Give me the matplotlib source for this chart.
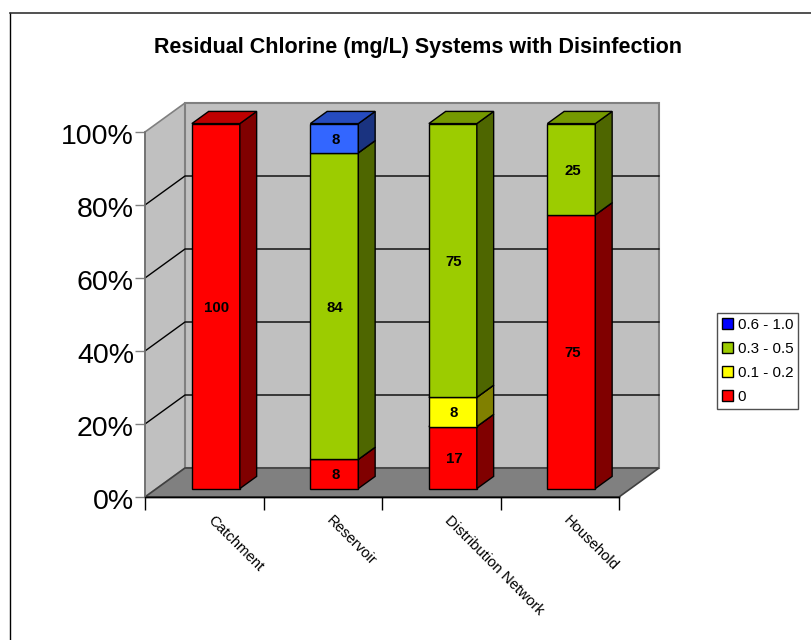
"""
    Residual chlorine stacked columns, drawn as a fake 3D box
"""

import matplotlib
matplotlib.use('Agg')
from matplotlib import pyplot as plt
from matplotlib.patches import Patch, Polygon
from matplotlib.lines import Line2D
from matplotlib.transforms import Affine2D

categories = ['Catchment', 'Reservoir', 'Distribution Network', 'Household']
series_names = ['0', '0.1 - 0.2', '0.3 - 0.5', '0.6 - 1.0']
s_0 = [100, 8, 17, 75]
s_01 = [0, 0, 8, 0]
s_03 = [0, 84, 75, 25]
s_06 = [0, 8, 0, 0]
series = [s_0, s_01, s_03, s_06]
yticks = [0, 20, 40, 60, 80, 100]

face = ['#ff0000', '#ffff00', '#9ccc00', '#3366ff']
top = ['#bf0000', '#bfbf00', '#759900', '#264cbf']
side = ['#800000', '#808000', '#4e6600', '#1a3380']
legend_col = ['#ff0000', '#ffff00', '#9ccc00', '#0000ff']

W, H = 811, 640
DX, DY = 40, 29  # pixel shift of the box depth
BW = 0.405  # bar width in category units


def px_box(x0, y0, x1, y1):
    return [x0 / W, 1 - y1 / H, (x1 - x0) / W, (y1 - y0) / H]


plt.rcParams['font.family'] = ['Liberation Sans', 'DejaVu Sans']
fig = plt.figure(figsize=(W / 100, H / 100), dpi=100)

# outer chart frame, only left and top are inside the image
fig.add_artist(Line2D([9.5 / W, 9.5 / W], [0, 1 - 13 / H], color='black', lw=1))
fig.add_artist(Line2D([9.5 / W, 1], [1 - 13 / H, 1 - 13 / H], color='#333333', lw=1.2))

ax = fig.add_axes(px_box(145, 132, 619, 497))
ax.set_xlim(0, 4)
ax.set_ylim(0, 100)
ax.patch.set_visible(False)
for k in ['top', 'right']:
    ax.spines[k].set_visible(False)
ax.spines['left'].set_color('#707070')
ax.spines['left'].set_linewidth(1.2)
ax.spines['bottom'].set_color('black')
ax.spines['bottom'].set_linewidth(1)


def poly(pts, fc, ec='black', lw=1, z=2):
    ax.add_patch(Polygon(pts, closed=True, fc=fc, ec=ec, lw=lw, zorder=z, clip_on=False))


def shift(x, y, d):
    # data point pushed back by depth d, returned in data coordinates
    disp = ax.transData.transform((x, y))
    return tuple(ax.transData.inverted().transform((disp[0] + DX * d, disp[1] + DY * d)))


# walls and floor
poly([shift(0, 0, 0), shift(0, 0, 1), shift(0, 100, 1), shift(0, 100, 0)], '#c0c0c0', ec='#808080', lw=1.2, z=0)
poly([shift(0, 0, 1), shift(4, 0, 1), shift(4, 100, 1), shift(0, 100, 1)], '#c0c0c0', ec='#808080', lw=1.5, z=0)
poly([shift(0, 0, 0), shift(4, 0, 0), shift(4, 0, 1), shift(0, 0, 1)], '#808080', ec='#404040', lw=1.2, z=0.5)
ax.plot([0, 4], [0, 0], color='black', lw=1, zorder=0.6, clip_on=False)

# gridlines along side wall and back wall
for v in yticks[1:-1]:
    a, b, c = shift(0, v, 0), shift(0, v, 1), shift(4, v, 1)
    ax.plot([a[0], b[0], c[0]], [a[1], b[1], c[1]], color='black', lw=1, zorder=1, clip_on=False)

# stacked bars
d0, d1 = 0.29, 0.71
for i in range(len(categories)):
    left = i + 0.5 - BW / 2
    right = left + BW
    bottom = 0
    for j, vals in enumerate(series):
        v = vals[i]
        if v == 0:
            continue
        tp = bottom + v
        a, b = shift(left, bottom, d0), shift(right, bottom, d0)
        c, e = shift(right, tp, d0), shift(left, tp, d0)
        poly([a, b, c, e], face[j], z=3)
        b2, c2, e2 = shift(right, bottom, d1), shift(right, tp, d1), shift(left, tp, d1)
        poly([b, b2, c2, c], side[j], z=3)
        poly([e, c, c2, e2], top[j], z=3)
        mx, my = shift(i + 0.5, bottom + v / 2, d0)
        ax.annotate(str(v), xy=(mx, my), xytext=(1, -1.5), textcoords='offset pixels', ha='center', va='center',
                    fontsize=10.8, fontweight='bold', color='black', zorder=4)
        bottom = tp

ax.set_yticks(yticks)
ax.set_yticklabels([f'{v}%' for v in yticks], fontsize=20.5, va='center')
ax.set_xticks(range(5))
ax.set_xticklabels([])
ax.tick_params(axis='y', length=7, width=1, color='#808080', pad=1)
ax.tick_params(axis='x', length=9, width=1, color='black')

# labels sit a little below their ticks in the original
for lab in ax.get_yticklabels():
    lab.set_transform(lab.get_transform() + Affine2D().translate(0, -5))

for i, name in enumerate(categories):
    ax.annotate(name, xy=(i + 0.5, 0), xycoords=('data', 'axes fraction'), xytext=(6, -21),
                textcoords='offset pixels', rotation=-45, rotation_mode='anchor', ha='left', va='center',
                fontsize=10.7)

fig.text(418 / W, 1 - 48 / H, 'Residual Chlorine (mg/L) Systems with Disinfection', ha='center', va='center',
         fontsize=15.5, fontweight='bold')

handles = [Patch(fc=legend_col[j], ec='black', label=series_names[j]) for j in range(3, -1, -1)]
fig.legend(handles=handles, loc='center', bbox_to_anchor=(757.5 / W, 1 - 361 / H), fontsize=10.9, frameon=True,
           fancybox=False, edgecolor='#505050', framealpha=1, handlelength=0.73, handleheight=0.73,
           handletextpad=0.35, labelspacing=0.67, borderpad=0.3)

fig.savefig('out.png', dpi=100)
